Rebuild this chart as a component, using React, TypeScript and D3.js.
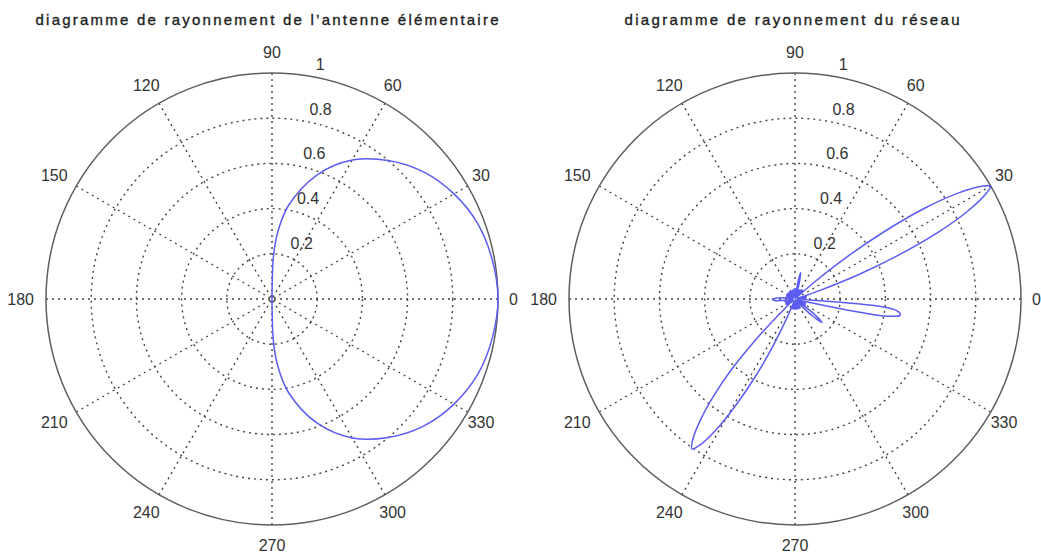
import React from "react";
import * as d3 from "d3";

const WIDTH = 1041;
const HEIGHT = 558;

// Polar grid: dotted rings, radial tick labels and angle spokes
const ringValues = [0.2, 0.4, 0.6, 0.8];
const radialTickValues = [0.2, 0.4, 0.6, 0.8, 1];
const radialTickLabels = ["0.2", "0.4", "0.6", "0.8", "1"];
const spokeAngles = [0, 30, 60, 90, 120, 150];
const angleTickValues = [0, 30, 60, 90, 120, 150, 180, 210, 240, 270, 300, 330];
const angleTickLabels = ["0", "30", "60", "90", "120", "150", "180", "210", "240", "270", "300", "330"];

const titles = [
  "diagramme de rayonnement de l\u2019antenne élémentaire",
  "diagramme de rayonnement du réseau",
];

// Elementary antenna: normalised gain vs angle (degrees)
const elementAngles = [-90, -88, -85, -80, -70, -60, -50, -40, -30, -20, -10, 0, 10, 20, 30, 40, 50, 60, 70, 80, 85, 88, 90];
const elementGain = [0, 0.19, 0.3, 0.42, 0.585, 0.71, 0.8, 0.875, 0.93, 0.97, 0.99, 1, 0.99, 0.97, 0.93, 0.875, 0.8, 0.71, 0.585, 0.42, 0.3, 0.19, 0];

// Array pattern: normalised gain vs angle (degrees)
const arrayAngles = [
  -50, -47, -44, -41, -38, -35, -32, -29, -26, -23, -20, -17, -14, -13, -12, -11, -10, -9, -8, -7, -6, -5, -4, -3,
  0, 3, 6, 9, 12, 15, 17, 19, 21, 23, 25, 27, 29, 30, 31, 33, 35, 37, 39, 41, 43,
  46, 49, 52, 55, 58, 61, 64, 67, 70, 73, 76, 78, 80, 83,
  86, 90, 94, 98, 102, 106, 110, 114, 118, 122, 126, 130, 134, 138, 142, 146, 150, 154, 158, 162, 166, 169,
  172, 176, 180, 184, 188, 192,
  195, 198, 201, 204, 207, 210, 213, 216, 220, 223, 226, 228, 230, 232, 234, 235.5, 237, 239, 241, 243, 245, 247, 250,
  253, 256, 260, 264, 268, 272, 276, 280, 284, 288, 292, 296, 300, 304, 307, 310,
];
const arrayGain = [
  0.0, 0.04, 0.11, 0.16, 0.1, 0.02, 0.055, 0.02, 0.05, 0.01, 0.05, 0.01, 0.03, 0.08, 0.24, 0.38, 0.44, 0.47, 0.47, 0.46, 0.44, 0.38, 0.14, 0.03,
  0.05, 0.01, 0.05, 0.01, 0.05, 0.01, 0.045, 0.12, 0.3, 0.5, 0.7, 0.86, 0.97, 1.0, 0.97, 0.86, 0.7, 0.5, 0.3, 0.12, 0.03,
  0.01, 0.05, 0.01, 0.05, 0.01, 0.045, 0.01, 0.045, 0.0, 0.03, 0.09, 0.12, 0.08, 0.01,
  0.045, 0.01, 0.045, 0.01, 0.04, 0.01, 0.04, 0.01, 0.04, 0.01, 0.04, 0.01, 0.04, 0.01, 0.04, 0.01, 0.04, 0.01, 0.04, 0.01, 0.04, 0.01,
  0.02, 0.07, 0.1, 0.09, 0.03, 0.01,
  0.045, 0.01, 0.045, 0.01, 0.045, 0.01, 0.045, 0.01, 0.02, 0.06, 0.25, 0.42, 0.56, 0.68, 0.77, 0.805, 0.77, 0.67, 0.53, 0.38, 0.22, 0.08, 0.01,
  0.045, 0.01, 0.045, 0.01, 0.045, 0.01, 0.045, 0.01, 0.045, 0.01, 0.045, 0.01, 0.045, 0.01, 0.03, 0.0,
];

const FONT = "'Liberation Sans', Arial, sans-serif";
const GRID = "#444";
const CURVE = "#5c5cf2";

type PolarProps = {
  cx: number;
  cy: number;
  radius: number;
  title: string;
  titleWidth: number;
  titleX: number;
  angles: number[];
  gains: number[];
};

function PolarPlot({ cx, cy, radius, title, titleWidth, titleX, angles, gains }: PolarProps) {
  const r = d3.scaleLinear().domain([0, 1]).range([0, radius]);
  const toRad = (deg: number) => (deg * Math.PI) / 180;
  const px = (deg: number, v: number) => cx + r(v) * Math.cos(toRad(deg));
  const py = (deg: number, v: number) => cy - r(v) * Math.sin(toRad(deg));

  const pts: [number, number][] = angles.map((a, i) => [toRad(a), gains[i]]);
  // d3.lineRadial measures angles clockwise from 12 o'clock
  const radial = d3
    .lineRadial<[number, number]>()
    .angle((d) => Math.PI / 2 - d[0])
    .radius((d) => r(d[1]))
    .curve(d3.curveCatmullRom.alpha(0.5));
  const path = radial(pts) || "";

  const c82 = Math.cos(toRad(82));
  const s82 = Math.sin(toRad(82));

  return (
    <g>
      <text
        x={titleX}
        y={19}
        textAnchor="middle"
        dominantBaseline="central"
        fontFamily={FONT}
        fontSize={15}
        fill="#1e1e1e"
        stroke="#1e1e1e"
        strokeWidth={0.35}
        textLength={titleWidth}
        lengthAdjust="spacing"
      >
        {title}
      </text>
      {/* spokes */}
      {spokeAngles.map((a) => (
        <line
          key={"s" + a}
          x1={px(a, 1)}
          y1={py(a, 1)}
          x2={px(a + 180, 1)}
          y2={py(a + 180, 1)}
          stroke={GRID}
          strokeWidth={1.4}
          strokeDasharray="2 4"
        />
      ))}
      {/* rings */}
      {ringValues.map((v) => (
        <circle key={"r" + v} cx={cx} cy={cy} r={r(v)} fill="none" stroke={GRID} strokeWidth={1.4} strokeDasharray="2 4" />
      ))}
      <circle cx={cx} cy={cy} r={r(1)} fill="none" stroke="#5e5e5e" strokeWidth={1.5} />
      {/* radial tick labels */}
      {radialTickValues.map((v, i) => (
        <text
          key={"rl" + v}
          x={cx + r(v + 0.01) * c82 + 12}
          y={cy - r(v + 0.01) * s82 - 3}
          fontFamily={FONT}
          fontSize={16}
          fill="#333"
        >
          {radialTickLabels[i]}
        </text>
      ))}
      {/* angle labels */}
      {angleTickValues.map((a, i) => (
        <text
          key={"al" + a}
          x={px(a, 1.09) - 5 * Math.abs(Math.cos(toRad(a)))}
          y={py(a, 1.09)}
          textAnchor="middle"
          dominantBaseline="central"
          fontFamily={FONT}
          fontSize={16}
          fill="#333"
        >
          {angleTickLabels[i]}
        </text>
      ))}
      <path d={path} transform={`translate(${cx},${cy})`} fill="none" stroke={CURVE} strokeWidth={1.5} strokeLinejoin="round" />
    </g>
  );
}

export default function App() {
  return (
    <svg width={WIDTH} height={HEIGHT} style={{ position: "absolute", left: 0, top: 0, background: "#fff" }}>
      <rect width={WIDTH} height={HEIGHT} fill="#fff" />
      <PolarPlot
        cx={272}
        cy={299}
        radius={226}
        title={titles[0]}
        titleWidth={463}
        titleX={267}
        angles={elementAngles}
        gains={elementGain}
      />
      <PolarPlot
        cx={795}
        cy={299}
        radius={226}
        title={titles[1]}
        titleWidth={335}
        titleX={792}
        angles={arrayAngles}
        gains={arrayGain}
      />
    </svg>
  );
}
